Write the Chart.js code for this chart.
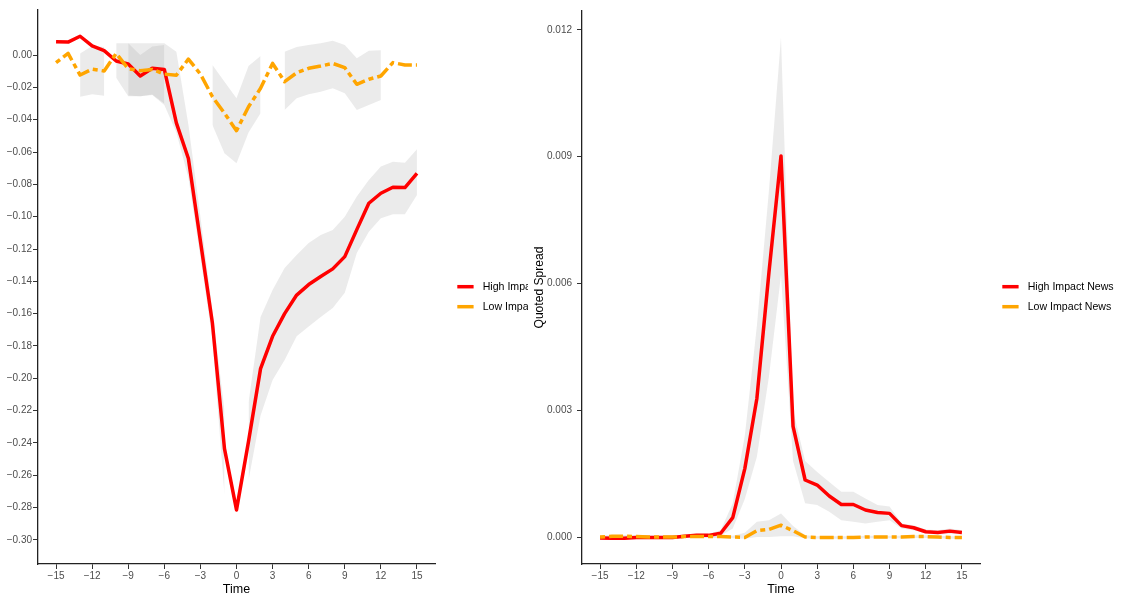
<!DOCTYPE html>
<html>
<head>
<meta charset="utf-8">
<script src="https://cdn.jsdelivr.net/npm/chart.js@4.4.1/dist/chart.umd.min.js"></script>
<style>
  html, body { margin: 0; padding: 0; background: #fff; width: 1121px; height: 596px; overflow: hidden; }
  #leftWrap  { position: absolute; left: 0;     top: 0; width: 528px; height: 596px; }
  #rightWrap { position: absolute; left: 530px; top: 0; width: 591px; height: 596px; background: #fff; }
  canvas { display: block; }
</style>
</head>
<body>
<div id="leftWrap"><canvas id="leftPanel" width="528" height="596"></canvas></div>
<div id="rightWrap"><canvas id="rightPanel" width="591" height="596"></canvas></div>
<script>
// Event time (minutes around the announcement)
const times = [-15,-14,-13,-12,-11,-10,-9,-8,-7,-6,-5,-4,-3,-2,-1,0,1,2,3,4,5,6,7,8,9,10,11,12,13,14,15];
const xTicks = [-15,-12,-9,-6,-3,0,3,6,9,12,15];
const legendLabels = ['High Impact News', 'Low Impact News'];

// Left panel: returns
const leftHigh = [0.0082,0.0080,0.0116,0.0056,0.0027,-0.0037,-0.0056,-0.0130,-0.0082,-0.0089,-0.0420,-0.0640,-0.1150,-0.1660,-0.2435,-0.2814,-0.2390,-0.1940,-0.1740,-0.1600,-0.1485,-0.1420,-0.1370,-0.1323,-0.1247,-0.1080,-0.0917,-0.0855,-0.0818,-0.0820,-0.0732];
const leftHighUpper = [null,null,null,null,null,0.0072,0.0072,0.0072,0.0072,0.0072,0.0020,-0.0430,-0.1000,-0.1580,-0.2200,null,-0.2150,-0.1620,-0.1453,-0.1318,-0.1237,-0.1163,-0.1113,-0.1082,-0.1000,-0.0876,-0.0773,-0.0690,-0.0660,-0.0666,-0.0583];
const leftHighLower = [null,null,null,null,null,-0.0140,-0.0255,-0.0255,-0.0248,-0.0310,-0.0480,-0.0760,-0.1250,-0.1760,-0.2720,null,-0.2630,-0.2230,-0.2010,-0.1886,-0.1740,-0.1680,-0.1620,-0.1565,-0.1470,-0.1225,-0.1093,-0.1010,-0.0985,-0.0985,-0.0866];
const leftLow = [-0.0047,0.0010,-0.0124,-0.0087,-0.0099,0.0010,-0.0085,-0.0097,-0.0089,-0.0118,-0.0125,-0.0025,-0.0118,-0.0258,-0.0360,-0.0468,-0.0320,-0.0206,-0.0052,-0.0165,-0.0110,-0.0082,-0.0068,-0.0052,-0.0078,-0.0181,-0.0150,-0.0130,-0.0047,-0.0062,-0.0062];
const leftLowUpper = [null,null,0.0010,0.0056,0.0050,null,0.0072,0.0000,0.0052,0.0062,null,null,null,-0.0062,-0.0165,-0.0268,-0.0068,-0.0006,null,0.0020,0.0050,0.0062,0.0072,0.0088,0.0062,-0.0020,0.0027,0.0030,null,null,null];
const leftLowLower = [null,null,-0.0258,-0.0243,-0.0252,null,-0.0250,-0.0255,-0.0245,-0.0300,null,null,null,-0.0433,-0.0607,-0.0670,-0.0480,-0.0360,null,-0.0340,-0.0268,-0.0243,-0.0227,-0.0206,-0.0237,-0.0340,-0.0310,-0.0278,null,null,null];
const leftYTicks = [0,-0.02,-0.04,-0.06,-0.08,-0.10,-0.12,-0.14,-0.16,-0.18,-0.20,-0.22,-0.24,-0.26,-0.28,-0.30];

// Right panel: quoted spread
const rightHigh = [-0.00002,-0.00003,-0.00003,-0.00001,-0.00001,-0.00001,-0.00001,0.00002,0.00004,0.00004,0.00009,0.00046,0.00162,0.00328,0.00626,0.00902,0.00262,0.00135,0.00123,0.00097,0.00077,0.00077,0.00064,0.00058,0.00056,0.00027,0.00022,0.000125,0.00011,0.00014,0.00011];
const rightHighUpper = [0.00002,0.00001,0.00001,0.00003,0.00003,0.00003,0.00003,0.00006,0.00008,0.00008,0.00016,0.00080,0.00240,0.00500,0.00820,0.01182,0.00300,0.00180,0.00154,0.00130,0.00107,0.00107,0.00091,0.00076,0.00072,0.00032,0.00028,0.00018,0.00016,0.00020,0.00016];
const rightHighLower = [-0.00006,-0.00007,-0.00007,-0.00005,-0.00005,-0.00005,-0.00005,-0.00002,0.00000,0.00000,0.00003,0.00020,0.00090,0.00190,0.00380,0.00620,0.00180,0.00080,0.00076,0.00060,0.00040,0.00036,0.00032,0.00036,0.00040,0.00020,0.00016,0.00008,0.00006,0.00008,0.00006];
const rightLow = [0.00000,0.00002,0.00002,0.00001,0.00000,0.00000,0.00000,0.00001,0.00001,0.00001,0.00001,0.00000,-0.00001,0.00015,0.00018,0.00028,0.00015,0.00000,-0.00001,-0.00001,-0.00001,-0.00001,0.00000,0.00000,0.00000,0.00000,0.00001,0.00001,0.00000,-0.00001,-0.00001];
const rightLowUpper = [0.00003,0.00005,0.00005,0.00004,0.00003,0.00003,0.00003,0.00004,0.00004,0.00004,0.00004,0.00003,0.00010,0.00036,0.00040,0.00056,0.00026,0.00004,0.00002,0.00002,0.00002,0.00002,0.00003,0.00003,0.00003,0.00003,0.00004,0.00004,0.00003,0.00002,0.00002];
const rightLowLower = [-0.00003,-0.00001,-0.00001,-0.00002,-0.00003,-0.00003,-0.00003,-0.00002,-0.00002,-0.00002,-0.00002,-0.00003,-0.00004,0.00000,0.00000,0.00002,0.00002,-0.00003,-0.00004,-0.00004,-0.00004,-0.00004,-0.00003,-0.00003,-0.00003,-0.00003,-0.00002,-0.00002,-0.00003,-0.00004,-0.00004];
const rightYTicks = [0,0.003,0.006,0.009,0.012];

const RED = '#FF0000';
const ORANGE = '#FFA500';
const BAND = 'rgba(153,153,153,0.2)';
const FONT = '"Liberation Sans", Arial, Helvetica, sans-serif';
const seriesColors = [RED, ORANGE];

Chart.defaults.font.family = FONT;
Chart.defaults.animation = false;

const minus = s => s.replace('-', '\u2212');
const pts = arr => times.map((t, i) => ({ x: t, y: arr[i] }));

// Legend drawn beside the plotting area, vertically centred on the panel
const sideLegend = {
  id: 'sideLegend',
  afterDraw(chart) {
    const { ctx, chartArea } = chart;
    const x0 = chartArea.right + 22.3;
    const yc = chart.height / 2;
    ctx.save();
    legendLabels.forEach((label, i) => {
      const y = yc - 11.3 + i * 20;
      ctx.strokeStyle = seriesColors[i];
      ctx.lineWidth = 3.5;
      ctx.lineCap = 'butt';
      ctx.beginPath();
      ctx.moveTo(x0, y);
      ctx.lineTo(x0 + 16.3, y);
      ctx.stroke();
      ctx.fillStyle = '#000';
      ctx.font = '10.6px ' + FONT;
      ctx.textBaseline = 'middle';
      ctx.textAlign = 'left';
      ctx.fillText(label, x0 + 25.4, y);
    });
    ctx.restore();
  }
};

function datasets(high, low, highUp, highLo, lowUp, lowLo) {
  const hidden = { borderColor: 'rgba(0,0,0,0)', borderWidth: 0, pointRadius: 0, backgroundColor: BAND };
  return [
    { label: legendLabels[1], data: pts(low), borderColor: ORANGE, borderWidth: 3.5, borderDash: [5, 4, 14, 4],
      borderCapStyle: 'butt', borderJoinStyle: 'round', pointRadius: 0, fill: false, order: 0 },
    { label: legendLabels[0], data: pts(high), borderColor: RED, borderWidth: 3.5,
      borderCapStyle: 'butt', borderJoinStyle: 'round', pointRadius: 0, fill: false, order: 1 },
    Object.assign({ label: 'high upper', data: pts(highUp), fill: false, order: 3 }, hidden),
    Object.assign({ label: 'high lower', data: pts(highLo), fill: 2, order: 3 }, hidden),
    Object.assign({ label: 'low upper', data: pts(lowUp), fill: false, order: 2 }, hidden),
    Object.assign({ label: 'low lower', data: pts(lowLo), fill: 4, order: 2 }, hidden)
  ];
}

function panel(canvasId, opts) {
  return new Chart(document.getElementById(canvasId), {
    type: 'line',
    data: { datasets: datasets(...opts.series) },
    plugins: [sideLegend],
    options: {
      responsive: false,
      devicePixelRatio: 1,
      animation: false,
      events: [],
      layout: { padding: { top: 10, right: opts.padRight, left: 0, bottom: 0 } },
      plugins: { legend: { display: false }, tooltip: { enabled: false } },
      scales: {
        x: {
          type: 'linear', min: -16.5, max: 16.5,
          afterBuildTicks: s => { s.ticks = xTicks.map(v => ({ value: v })); },
          afterFit: s => { s.height = 32; },
          border: { display: true, color: '#222', width: 1.3 },
          grid: { display: true, drawOnChartArea: false, drawTicks: true, tickLength: 5, color: '#333', lineWidth: 1 },
          ticks: { autoSkip: false, maxRotation: 0, padding: 1.5, color: '#4D4D4D', font: { size: 10 },
                   callback: v => minus(String(v)) },
          title: { display: true, text: 'Time', color: '#000', font: { size: 12.5, lineHeight: 1.0 }, padding: { top: 0, bottom: 0 } }
        },
        y: {
          type: 'linear', min: opts.yMin, max: opts.yMax,
          afterBuildTicks: s => { s.ticks = opts.yTicks.map(v => ({ value: v })); },
          afterFit: s => { s.width = opts.yWidth; },
          border: { display: true, color: '#222', width: 1.3 },
          grid: { display: true, drawOnChartArea: false, drawTicks: true, tickLength: 5, color: '#333', lineWidth: 1 },
          ticks: { padding: opts.yPad, color: '#4D4D4D', font: { size: 10 },
                   callback: v => minus(v.toFixed(opts.decimals)) },
          title: opts.yTitle
            ? { display: true, text: opts.yTitle, color: '#000', font: { size: 12.1 }, padding: { top: 2, bottom: 0 } }
            : { display: false }
        }
      }
    }
  });
}

panel('leftPanel', {
  series: [leftHigh, leftLow, leftHighUpper, leftHighLower, leftLowUpper, leftLowLower],
  padRight: 528 - 435, yMin: -0.31485, yMax: 0.02784, yTicks: leftYTicks,
  yWidth: 38, yPad: 1, decimals: 2, yTitle: null
});

panel('rightPanel', {
  series: [rightHigh, rightLow, rightHighUpper, rightHighLower, rightLowUpper, rightLowLower],
  padRight: 591 - 450, yMin: -0.000638, yMax: 0.012449, yTicks: rightYTicks,
  yWidth: 52, yPad: 5, decimals: 3, yTitle: 'Quoted Spread'
});
</script>
</body>
</html>
